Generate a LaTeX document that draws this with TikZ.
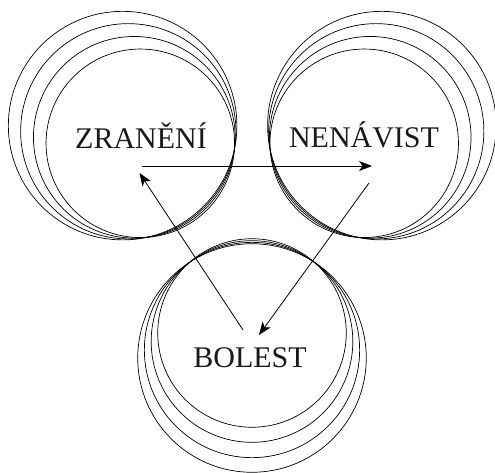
\documentclass[tikz,border=0pt]{standalone}
\usepackage{fontspec}
\setmainfont{Liberation Serif}
\usetikzlibrary{arrows.meta,calc}
\begin{document}
\begin{tikzpicture}[x=1pt,y=-1pt,
  ring/.style={line width=0.7pt, black},
  link/.style={line width=0.8pt, black, -{Stealth[length=13pt,width=10pt,inset=3.5pt]}},
  word/.style={font=\fontsize{30}{36}\selectfont, anchor=base, inner sep=0pt, text=black!90}]
\useasboundingbox (0,0) rectangle (495,473);
% rings: pencils of circles through two common points
\foreach \t in {71,79.5,88,96}{
  \pgfmathsetmacro{\r}{sqrt(3844+\t*\t)}
  % top-left group
  \draw[ring] ({190.5-0.7071*\t},{193.5-0.7071*\t}) circle[radius=\r pt];
  % top-right group
  \draw[ring] ({314-0.7071*(-\t)},{193.5-0.7071*\t}) circle[radius=\r pt];
  % bottom group
  \draw[ring] (252,{262+\t}) circle[radius=\r pt];
}
% labels
\node[word] (zr) at (141,149) {ZRANĚNÍ};
\node[word] (ne) at (364,148) {NENÁVIST};
\node[word] (bo) at (250,367) {BOLEST};
% arrow end points
\coordinate (zout) at (141.5,166);
\coordinate (nin)  at (372,166);
\coordinate (nout) at (369,183);
\coordinate (bin)  at (259,335);
\coordinate (bout) at (243,330);
\coordinate (zin)  at (139.5,173);
\draw[link] (zout) -- (nin);
\draw[link] (nout) -- (bin);
\draw[link] (bout) -- (zin);
\end{tikzpicture}
\end{document}
